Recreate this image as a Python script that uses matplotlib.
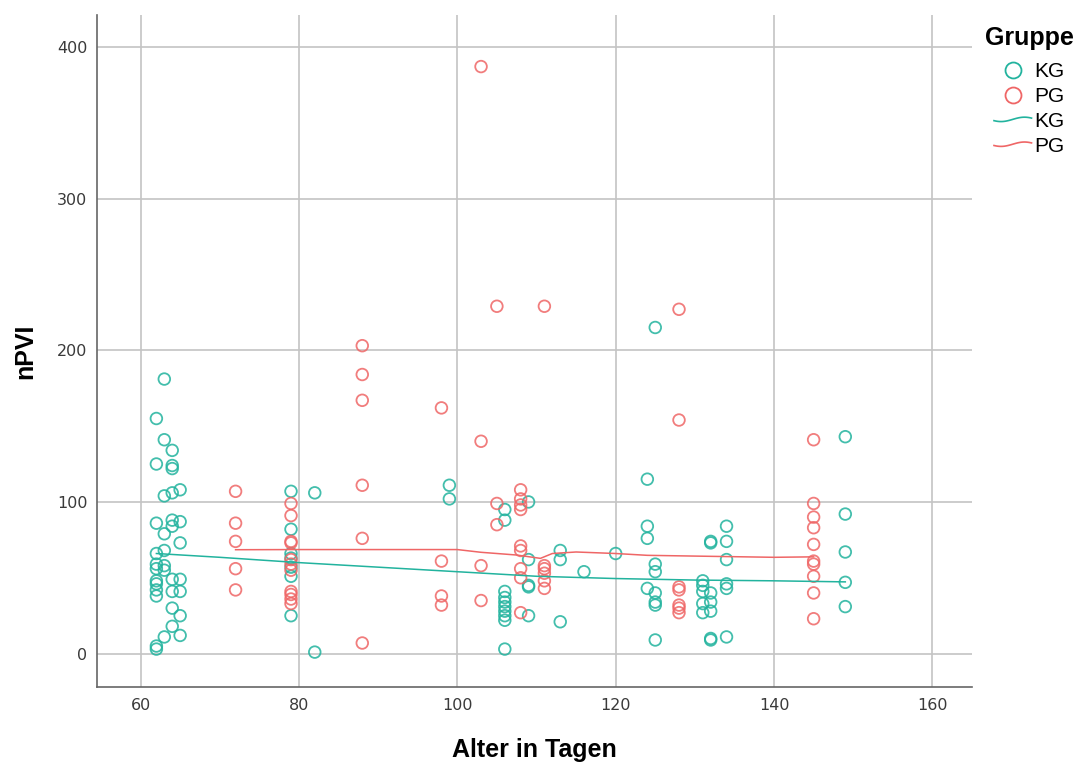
import numpy as np
import matplotlib
matplotlib.use("Agg")
import matplotlib.pyplot as plt
from matplotlib.lines import Line2D
from matplotlib.legend_handler import HandlerBase

# KG scatter points (age in days, nPVI)
kg_x = [62]*12 + [63]*8 + [64]*10 + [65]*7 + [79]*7 + [82]*2 + [99]*2 + [106]*10 \
    + [109]*5 + [113]*3 + [116] + [120] + [124]*4 + [125]*7 + [131]*5 + [132]*7 \
    + [134]*6 + [149]*5
kg_y = [155, 125, 86, 66, 59, 56, 48, 46, 42, 38, 5, 3,
        181, 141, 104, 79, 68, 58, 55, 11,
        134, 124, 122, 106, 88, 84, 49, 41, 30, 18,
        108, 87, 73, 49, 41, 25, 12,
        107, 82, 66, 63, 57, 51, 25,
        106, 1,
        111, 102,
        95, 88, 41, 37, 34, 31, 28, 25, 22, 3,
        100, 62, 45, 44, 25,
        68, 62, 21,
        54,
        66,
        115, 84, 76, 43,
        215, 59, 54, 40, 34, 32, 9,
        48, 45, 41, 33, 27,
        74, 73, 40, 34, 28, 10, 9,
        84, 74, 62, 46, 43, 11,
        143, 92, 67, 47, 31]

# PG scatter points
pg_x = [72]*5 + [79]*11 + [88]*6 + [98]*4 + [103]*4 + [105]*3 + [108]*9 \
    + [111]*6 + [128]*7 + [145]*10
pg_y = [107, 86, 74, 56, 42,
        99, 91, 74, 73, 62, 59, 55, 41, 39, 36, 33,
        203, 184, 167, 111, 76, 7,
        162, 61, 38, 32,
        387, 140, 58, 35,
        229, 99, 85,
        108, 102, 98, 95, 71, 68, 56, 50, 27,
        229, 58, 56, 53, 48, 43,
        227, 154, 44, 42, 32, 30, 27,
        141, 99, 90, 83, 72, 61, 59, 51, 40, 23]

# fit lines
kg_fit_x = [62, 70, 80, 90, 100, 110, 120, 130, 140, 149]
kg_fit_y = [66, 63.5, 60, 57, 54, 51, 49.5, 48.5, 48, 47.3]
pg_fit_x = [72, 80, 90, 100, 103, 107.5, 110.5, 112, 115, 120, 124, 130, 140, 145]
pg_fit_y = [68.5, 68.6, 68.6, 68.6, 66.8, 65, 62.8, 66, 67, 66, 64.8, 64.3, 63.5, 63.8]

teal = '#22b39e'
red = '#ef6666'
lab_font = ['Liberation Sans', 'DejaVu Sans']


class WaveHandler(HandlerBase):
    # little wavy line like the SPSS legend
    def create_artists(self, legend, orig_handle, xdescent, ydescent,
                       width, height, fontsize, trans):
        t = np.linspace(0, 1, 40)
        xs = -xdescent + t * width
        ys = -ydescent + height / 2 + height * 0.15 * np.sin((t - 0.5) * np.pi * 1.6)
        ln = Line2D(xs, ys, color=orig_handle.get_color(), lw=1.2, transform=trans)
        return [ln]


fig = plt.figure(figsize=(10.85, 7.65), dpi=100)
ax = fig.add_axes([97/1085, 78/765, 875/1085, 672/765])

ax.scatter(kg_x, kg_y, s=70, facecolors='none', edgecolors=teal, linewidths=1.3, alpha=0.85, zorder=3)
ax.scatter(pg_x, pg_y, s=70, facecolors='none', edgecolors=red, linewidths=1.3, alpha=0.85, zorder=3)
ax.plot(kg_fit_x, kg_fit_y, color=teal, lw=1.1, zorder=4)
ax.plot(pg_fit_x, pg_fit_y, color=red, lw=1.1, zorder=4)

ax.set_xlim(54.5, 165)
ax.set_ylim(-22, 421)
ax.set_xticks([60, 80, 100, 120, 140, 160])
ax.set_yticks([0, 100, 200, 300, 400])
ax.grid(True, color='#c4c4c4', lw=1.2)
ax.set_axisbelow(True)
for s in ['top', 'right']:
    ax.spines[s].set_visible(False)
for s in ['left', 'bottom']:
    ax.spines[s].set_color('#666666')
    ax.spines[s].set_linewidth(1.2)
ax.tick_params(length=0, labelsize=11.5, labelcolor='#3a3a3a')
ax.tick_params(axis='x', pad=8)
ax.tick_params(axis='y', pad=7)

ax.set_xlabel('Alter in Tagen', fontsize=18, fontweight='bold', family=lab_font, labelpad=18)
ax.set_ylabel('nPVI', fontsize=18, fontweight='bold', family=lab_font, labelpad=14)

handles = [Line2D([], [], ls='none', marker='o', ms=11.5, mfc='none', mec=teal, mew=1.3),
           Line2D([], [], ls='none', marker='o', ms=11.5, mfc='none', mec=red, mew=1.3),
           Line2D([], [], color=teal),
           Line2D([], [], color=red)]
labels = ['KG', 'PG', 'KG', 'PG']
fig.text(985/1085, 1 - 38/765, 'Gruppe', fontsize=18, fontweight='bold', family=lab_font,
         ha='left', va='center')
leg = fig.legend(handles, labels, loc='upper left', bbox_to_anchor=(994/1085, 1 - 62/765),
                 frameon=False, handlelength=1.8, handletextpad=0.15,
                 labelspacing=0.28, borderpad=0, borderaxespad=0,
                 prop={'family': lab_font, 'size': 15},
                 handler_map={handles[2]: WaveHandler(), handles[3]: WaveHandler()})

fig.savefig('out.png', dpi=100)
